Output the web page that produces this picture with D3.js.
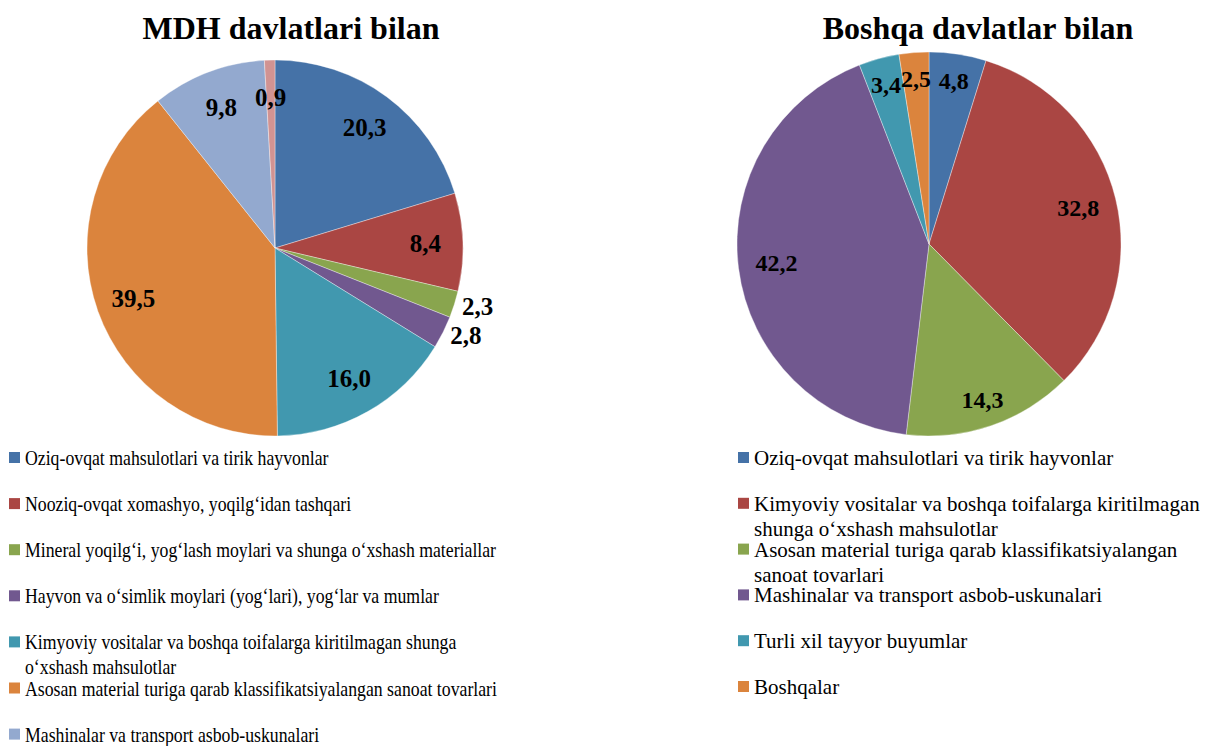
<!DOCTYPE html>
<html>
  <head>
    <meta charset="utf-8">
    <title>MDH va boshqa davlatlar</title>
    <style>
      body { margin: 0; background: #fff; }
      text { font-family: "Liberation Serif", "Times New Roman", serif; }
    </style>
  </head>
  <body>
    <script src="https://d3js.org/d3.v7.min.js"></script>
    <script>
      // left chart data
      const mdhCategories = [
        "Oziq-ovqat mahsulotlari va tirik hayvonlar",
        "Nooziq-ovqat xomashyo, yoqilg‘idan tashqari",
        "Mineral yoqilg‘i, yog‘lash moylari va shunga o‘xshash materiallar",
        "Hayvon va o‘simlik moylari (yog‘lari), yog‘lar va mumlar",
        "Kimyoviy vositalar va boshqa toifalarga kiritilmagan shunga\no‘xshash mahsulotlar",
        "Asosan material turiga qarab klassifikatsiyalangan sanoat tovarlari",
        "Mashinalar va transport asbob-uskunalari",
        ""
      ];
      const mdhValues = [20.3, 8.4, 2.3, 2.8, 16.0, 39.5, 9.8, 0.9];
      const mdhColors = ["#4572A7", "#AA4643", "#89A54E", "#71588F", "#4198AF", "#DB843D", "#93A9CF", "#D19392"];
      const mdhLabelOut = [false, false, true, true, false, false, false, false];

      // right chart data
      const otherCategories = [
        "Oziq-ovqat mahsulotlari va tirik hayvonlar",
        "Kimyoviy vositalar va boshqa toifalarga kiritilmagan\nshunga o‘xshash mahsulotlar",
        "Asosan material turiga qarab klassifikatsiyalangan\nsanoat tovarlari",
        "Mashinalar va transport asbob-uskunalari",
        "Turli xil tayyor buyumlar",
        "Boshqalar"
      ];
      const otherValues = [4.8, 32.8, 14.3, 42.2, 3.4, 2.5];
      const otherColors = ["#4572A7", "#AA4643", "#89A54E", "#71588F", "#4198AF", "#DB843D"];
      const otherLabelOut = [false, false, false, false, false, false];

      const fmt = v => v.toFixed(1).replace(".", ",");

      const svg = d3.select("body").append("svg")
        .attr("width", 1208)
        .attr("height", 746);

      const drawPie = (opt) => {
        const g = svg.append("g");

        g.append("text")
          .attr("x", opt.titleX)
          .attr("y", 39)
          .attr("text-anchor", "middle")
          .attr("font-size", 32)
          .attr("font-weight", "bold")
          .text(opt.title);

        const data = opt.values.map((v, i) => ({ v: v, i: i }));
        const pie = d3.pie().sort(null).value(d => d.v);
        const arcs = pie(data);
        const arc = d3.arc().innerRadius(0).outerRadius(opt.r);

        const pg = g.append("g")
          .attr("transform", `translate(${opt.cx},${opt.cy})`);

        pg.selectAll("path")
          .data(arcs)
          .enter()
          .append("path")
          .attr("d", arc)
          .attr("fill", d => opt.colors[d.data.i])
          .attr("stroke", "#fff")
          .attr("stroke-opacity", 0.6)
          .attr("stroke-width", 0.6);

        pg.selectAll("text.lbl")
          .data(arcs)
          .enter()
          .append("text")
          .attr("class", "lbl")
          .attr("font-size", opt.labelSize)
          .attr("font-weight", "bold")
          .attr("dominant-baseline", "central")
          .attr("text-anchor", d => opt.out[d.data.i] ? "start" : "middle")
          .attr("transform", d => {
            const rr = opt.out[d.data.i] ? opt.r + 8 : opt.r * opt.labelK(d.data.v);
            const c = d3.arc().innerRadius(rr).outerRadius(rr).centroid(d);
            return `translate(${c[0]},${c[1]})`;
          })
          .text(d => fmt(d.data.v));

        // legend
        const lg = g.append("g")
          .attr("transform", `translate(${opt.legX},0) scale(${opt.legScale},1)`);
        const items = opt.categories
          .map((c, i) => ({ c: c, i: i }))
          .filter(d => d.c !== "");

        const row = lg.selectAll("g")
          .data(items)
          .enter()
          .append("g")
          .attr("transform", (d, k) => `translate(0,${458 + k * opt.legStep})`);

        row.append("rect")
          .attr("x", 0)
          .attr("y", -6)
          .attr("width", 11 / opt.legScale)
          .attr("height", 11)
          .attr("fill", d => opt.colors[d.i]);

        row.append("text")
          .attr("x", 16 / opt.legScale)
          .attr("y", 7)
          .attr("font-size", 21)
          .selectAll("tspan")
          .data(d => d.c.split("\n"))
          .enter()
          .append("tspan")
          .attr("x", 16 / opt.legScale)
          .attr("dy", (d, j) => j === 0 ? 0 : 25)
          .text(d => d);
      };

      drawPie({
        title: "MDH davlatlari bilan",
        titleX: 291,
        cx: 275, cy: 248, r: 188,
        values: mdhValues,
        colors: mdhColors,
        categories: mdhCategories,
        out: mdhLabelOut,
        labelSize: 25,
        labelK: v => 0.8,
        legX: 9, legScale: 0.845, legStep: 46.1
      });

      drawPie({
        title: "Boshqa davlatlar bilan",
        titleX: 978,
        cx: 929, cy: 244, r: 192,
        values: otherValues,
        colors: otherColors,
        categories: otherCategories,
        out: otherLabelOut,
        labelSize: 24,
        labelK: v => v < 15 ? 0.86 : 0.8,
        legX: 738, legScale: 1, legStep: 45.8
      });
    </script>
  </body>
</html>
